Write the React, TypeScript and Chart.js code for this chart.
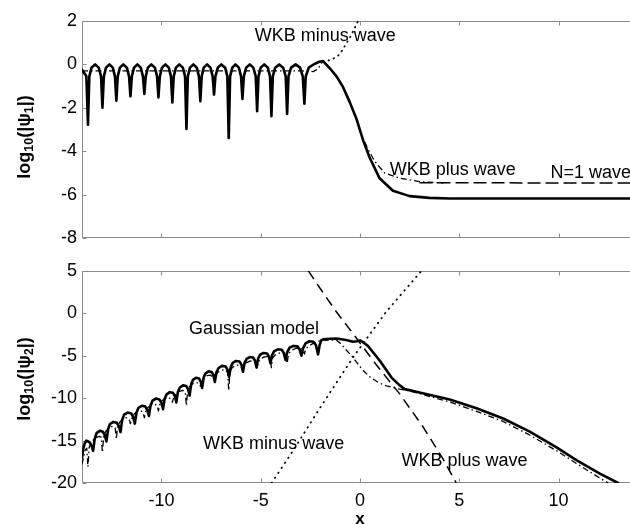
import React, { useEffect, useRef } from 'react';
import { Chart, registerables } from 'chart.js';

Chart.register(...registerables);

const FONT = '"Liberation Sans", Arial, Helvetica, sans-serif';

// ---------- axes ----------
const X_MIN = -14.0;
const X_MAX = 13.6;
const xTicks = [-10, -5, 0, 5, 10];
const topYTicks = [2, 0, -2, -4, -6, -8];
const bottomYTicks = [5, 0, -5, -10, -15, -20];

// ---------- top panel: log10(|psi1|) ----------
const psi1Numerical: [number, number][] = [
  [-14.0, -0.25], [-13.78, -0.55], [-13.7, -2.78], [-13.63, -0.55], [-13.52, -0.15], [-13.34, 0],
  [-13.16, -0.15], [-13.04, -0.55], [-12.97, -2.0], [-12.9, -0.55], [-12.79, -0.15], [-12.62, 0],
  [-12.45, -0.15], [-12.34, -0.55], [-12.27, -1.67], [-12.2, -0.55], [-12.09, -0.15], [-11.92, 0],
  [-11.74, -0.15], [-11.63, -0.55], [-11.56, -1.47], [-11.49, -0.55], [-11.38, -0.15], [-11.21, 0],
  [-11.04, -0.15], [-10.93, -0.55], [-10.86, -1.36], [-10.79, -0.55], [-10.68, -0.15], [-10.51, 0],
  [-10.33, -0.15], [-10.22, -0.55], [-10.15, -1.52], [-10.08, -0.55], [-9.97, -0.15], [-9.8, 0],
  [-9.63, -0.15], [-9.52, -0.55], [-9.45, -1.75], [-9.38, -0.55], [-9.27, -0.15], [-9.1, 0],
  [-8.92, -0.15], [-8.81, -0.55], [-8.74, -2.98], [-8.67, -0.55], [-8.56, -0.15], [-8.39, 0],
  [-8.22, -0.15], [-8.11, -0.55], [-8.04, -1.7], [-7.97, -0.55], [-7.87, -0.15], [-7.7, 0],
  [-7.53, -0.15], [-7.42, -0.55], [-7.35, -1.39], [-7.28, -0.55], [-7.16, -0.15], [-6.98, 0],
  [-6.79, -0.15], [-6.68, -0.55], [-6.61, -3.39], [-6.54, -0.55], [-6.43, -0.15], [-6.27, 0],
  [-6.1, -0.15], [-5.99, -0.55], [-5.92, -1.59], [-5.85, -0.55], [-5.73, -0.15], [-5.55, 0],
  [-5.37, -0.15], [-5.25, -0.55], [-5.18, -2.16], [-5.11, -0.55], [-5.0, -0.15], [-4.82, 0],
  [-4.64, -0.15], [-4.53, -0.55], [-4.46, -2.39], [-4.39, -0.55], [-4.27, -0.15], [-4.07, 0],
  [-3.87, -0.15], [-3.74, -0.55], [-3.67, -2.28], [-3.6, -0.55], [-3.47, -0.15], [-3.24, 0],
  [-3.02, -0.15], [-2.88, -0.55], [-2.8, -1.81], [-2.73, -0.55], [-2.58, -0.15], [-2.3, 0.02],
  [-2.05, 0.12], [-1.86, 0.15], [-1.5, -0.2], [-1.18, -0.55], [-0.85, -1.05], [-0.51, -1.75],
  [-0.18, -2.5], [0.16, -3.5], [0.49, -4.3], [0.99, -5.25], [1.66, -5.82], [2.5, -6.07],
  [3.5, -6.15], [4.5, -6.18], [13.6, -6.18],
];
const psi1Gaussian: [number, number][] = [
  [-14.0, -0.3], [-2.6, -0.3], [-2.35, -0.33], [-2.1, -0.2], [-1.95, 0.05], [-1.86, 0.13],
  [-1.5, -0.2], [-1.18, -0.58], [-0.85, -1.07], [-0.51, -1.77], [-0.18, -2.5], [0.07, -3.25],
  [0.4, -3.9], [0.75, -4.48], [1.25, -5.01], [2.0, -5.24], [3.0, -5.4], [4.2, -5.47],
];
const psi1WkbMinus: [number, number][] = [
  [-1.86, 0.15], [-1.52, 0.19], [-1.27, 0.3], [-1.02, 0.46], [-0.77, 0.84], [-0.51, 1.23],
  [-0.26, 1.69], [-0.1, 2.0],
];
const psi1N1: [number, number][] = [
  [3.0, -5.45], [13.6, -5.47],
];

// ---------- bottom panel: log10(|psi2|) ----------
const psi2Numerical: [number, number][] = [
  [-14.0, -17.0], [-13.93, -15.9], [-13.86, -15.3], [-13.78, -15.0], [-13.62, -15.2], [-13.52, -15.6], [-13.44, -16.2],
  [-13.36, -14.8], [-13.26, -14.1], [-13.1, -13.85], [-12.95, -13.95], [-12.85, -14.35], [-12.77, -15.1],
  [-12.69, -13.7], [-12.59, -13.05], [-12.42, -12.8], [-12.25, -12.9], [-12.14, -13.3], [-12.06, -14.0],
  [-11.98, -12.6], [-11.88, -11.95], [-11.7, -11.7], [-11.52, -11.8], [-11.42, -12.25], [-11.34, -13.0],
  [-11.26, -11.75], [-11.16, -11.15], [-10.99, -10.9], [-10.81, -11.0], [-10.71, -11.4], [-10.63, -12.1],
  [-10.55, -10.9], [-10.45, -10.3], [-10.28, -10.05], [-10.1, -10.15], [-10.0, -10.55], [-9.92, -11.3],
  [-9.84, -10.1], [-9.74, -9.55], [-9.58, -9.3], [-9.42, -9.38], [-9.32, -9.75], [-9.25, -10.5],
  [-9.17, -9.25], [-9.07, -8.75], [-8.91, -8.5], [-8.75, -8.58], [-8.65, -8.95], [-8.58, -9.7],
  [-8.5, -8.35], [-8.41, -7.85], [-8.26, -7.6], [-8.11, -7.68], [-8.02, -8.05], [-7.95, -8.8],
  [-7.87, -7.55], [-7.78, -7.1], [-7.63, -6.85], [-7.47, -6.92], [-7.38, -7.3], [-7.31, -8.1],
  [-7.23, -6.95], [-7.12, -6.45], [-6.95, -6.2], [-6.77, -6.27], [-6.67, -6.65], [-6.59, -7.5],
  [-6.51, -6.35], [-6.41, -5.85], [-6.24, -5.62], [-6.07, -5.68], [-5.97, -6.05], [-5.89, -6.9],
  [-5.81, -5.85], [-5.71, -5.37], [-5.55, -5.16], [-5.38, -5.22], [-5.29, -5.57], [-5.21, -6.4],
  [-5.13, -5.35], [-5.03, -4.89], [-4.86, -4.68], [-4.68, -4.74], [-4.59, -5.1], [-4.51, -5.9],
  [-4.43, -4.95], [-4.32, -4.47], [-4.13, -4.25], [-3.94, -4.31], [-3.84, -4.67], [-3.75, -5.5],
  [-3.66, -4.55], [-3.55, -4.07], [-3.35, -3.85], [-3.15, -3.9], [-3.04, -4.25], [-2.95, -5.0],
  [-2.86, -4.1], [-2.74, -3.55], [-2.55, -3.3], [-2.35, -3.35], [-2.22, -3.75], [-2.11, -4.85],
  [-2.03, -3.75], [-1.95, -3.2], [-1.86, -3.08], [-1.5, -3.0], [-1.18, -2.97], [-0.7, -3.15],
  [-0.35, -3.36], [-0.15, -3.3], [0.0, -3.2], [0.15, -3.4], [0.41, -3.87], [1.0, -5.6],
  [1.59, -7.58], [2.0, -8.5], [2.26, -8.94], [3.0, -9.34], [4.52, -10.15], [5.87, -11.2],
  [7.21, -12.4], [8.55, -13.95], [9.9, -15.8], [10.9, -17.3], [12.08, -18.9], [13.0, -20.0],
];
const psi2Gaussian: [number, number][] = [
  [-14.0, -17.8], [-13.85, -16.2], [-13.76, -15.9], [-13.7, -18.1], [-13.64, -15.8], [-13.52, -15.2],
  [-13.34, -14.7], [-13.15, -14.5], [-13.03, -14.6], [-12.97, -16.4], [-12.91, -14.5], [-12.8, -13.9],
  [-12.62, -13.5], [-12.45, -13.3], [-12.33, -13.5], [-12.27, -14.8], [-12.21, -13.4], [-12.09, -12.8],
  [-11.92, -12.4], [-11.74, -12.3], [-11.62, -12.55], [-11.56, -13.0], [-11.5, -12.45], [-11.38, -11.9],
  [-11.21, -11.55], [-11.04, -11.45], [-10.92, -11.75], [-10.86, -12.3], [-10.8, -11.6], [-10.68, -11.1],
  [-10.51, -10.8], [-10.33, -10.7], [-10.21, -10.95], [-10.15, -11.5], [-10.09, -10.8], [-9.97, -10.3],
  [-9.8, -10.0], [-9.63, -9.9], [-9.51, -10.15], [-9.45, -10.5], [-9.39, -10.0], [-9.27, -9.5],
  [-9.1, -9.2], [-8.92, -9.1], [-8.8, -9.3], [-8.74, -10.9], [-8.68, -9.1], [-8.56, -8.6],
  [-8.39, -8.25], [-8.22, -8.15], [-8.1, -8.35], [-8.04, -8.6], [-7.98, -8.1], [-7.87, -7.7],
  [-7.7, -7.35], [-7.53, -7.3], [-7.41, -7.55], [-7.35, -7.8], [-7.29, -7.4], [-7.16, -6.95],
  [-6.98, -6.7], [-6.79, -6.65], [-6.67, -6.95], [-6.61, -9.1], [-6.55, -6.8], [-6.43, -6.4],
  [-6.27, -6.15], [-6.1, -6.1], [-5.98, -6.35], [-5.92, -6.8], [-5.86, -6.2], [-5.73, -5.85],
  [-5.55, -5.65], [-5.37, -5.6], [-5.24, -5.85], [-5.18, -6.4], [-5.12, -5.75], [-5.0, -5.35],
  [-4.82, -5.15], [-4.64, -5.1], [-4.52, -5.35], [-4.46, -6.4], [-4.4, -5.3], [-4.27, -4.9],
  [-4.07, -4.7], [-3.87, -4.65], [-3.74, -4.9], [-3.67, -5.9], [-3.6, -4.8], [-3.47, -4.4],
  [-3.24, -4.15], [-3.02, -4.1], [-2.88, -4.3], [-2.8, -4.8], [-2.73, -4.2], [-2.55, -3.8],
  [-2.3, -3.5], [-2.05, -3.25], [-1.86, -3.15], [-1.2, -3.15], [-1.02, -3.48], [-0.7, -4.3],
  [-0.35, -5.2], [0.1, -6.6], [0.49, -7.5], [1.0, -8.25], [1.33, -8.55], [2.0, -8.95],
  [2.5, -9.15], [3.35, -9.7], [4.52, -10.45], [5.87, -11.55], [7.21, -12.75], [8.55, -14.35],
  [9.9, -16.2], [10.9, -17.7], [12.0, -19.3], [12.5, -20.0],
];
const psi2WkbMinus: [number, number][] = [
  [-4.45, -20], [-3.4, -16.3], [-2.0, -11.1], [-0.35, -5.2], [1.33, 0.2], [3.1, 5],
];
const psi2WkbPlus: [number, number][] = [
  [-2.6, 5], [-2.03, 3.0], [-1.2, 0.2], [-0.35, -2.4], [0.83, -6.1], [2.0, -9.5],
  [3.18, -13.4], [4.19, -17.2], [4.85, -20],
];

// ---------- text annotations (data coordinates) ----------
const topNotes = [
  { text: 'WKB minus wave', x: -5.3, y: 1.31 },
  { text: 'WKB plus wave', x: 1.5, y: -4.86 },
  { text: 'N=1 wave', x: 9.6, y: -5.01 },
];
const bottomNotes = [
  { text: 'Gaussian model', x: -8.61, y: -1.91 },
  { text: 'WKB minus wave', x: -7.9, y: -15.38 },
  { text: 'WKB plus wave', x: 2.09, y: -17.46 },
];

type Pts = [number, number][];

const solid = (pts: Pts) => ({
  data: pts.map(([x, y]) => ({ x, y })),
  borderColor: '#000', borderWidth: 2.6, borderDash: [] as number[],
  borderCapStyle: 'round', borderJoinStyle: 'round',
  pointRadius: 0, showLine: true, fill: false, tension: 0,
});
const styled = (pts: Pts, width: number, dash: number[], cap: string) => ({
  data: pts.map(([x, y]) => ({ x, y })),
  borderColor: '#000', borderWidth: width, borderDash: dash,
  borderCapStyle: cap, borderJoinStyle: 'round',
  pointRadius: 0, showLine: true, fill: false, tension: 0,
});

function framePlugin(yTicks: number[]) {
  return {
    id: 'frame',
    beforeDatasetsDraw(chart: any) {
      const { ctx, chartArea: a, scales } = chart;
      const L = Math.round(a.left) + 0.5;
      const T = Math.round(a.top) + 0.5;
      const B = Math.round(a.bottom) - 0.5;
      ctx.save();
      ctx.strokeStyle = '#8a8a8a';
      ctx.lineWidth = 1;
      ctx.beginPath();
      ctx.moveTo(a.right, T); ctx.lineTo(L, T); ctx.lineTo(L, B); ctx.lineTo(a.right, B);
      xTicks.forEach((v) => {
        const px = Math.round(scales.x.getPixelForValue(v)) + 0.5;
        ctx.moveTo(px, T); ctx.lineTo(px, T + 4);
        ctx.moveTo(px, B); ctx.lineTo(px, B - 4);
      });
      yTicks.forEach((v) => {
        const py = Math.round(scales.y.getPixelForValue(v)) + 0.5;
        ctx.moveTo(L, py); ctx.lineTo(L + 4, py);
      });
      ctx.stroke();
      ctx.restore();
    },
  };
}

function textPlugin(notes: { text: string; x: number; y: number }[], sub: string, titleCy: number, xTitle: boolean) {
  return {
    id: 'texts',
    afterDatasetsDraw(chart: any) {
      const { ctx, scales } = chart;
      ctx.save();
      ctx.fillStyle = '#000';
      ctx.textBaseline = 'middle';
      ctx.textAlign = 'left';
      ctx.font = `18px ${FONT}`;
      notes.forEach((n) => {
        ctx.fillText(n.text, scales.x.getPixelForValue(n.x), scales.y.getPixelForValue(n.y));
      });
      // y-axis title with subscripts
      const big = `bold 18px ${FONT}`;
      const small = `bold 12.5px ${FONT}`;
      const parts: [string, string, number][] = [
        ['log', big, 0], ['10', small, 5], ['(|\u03c8', big, 0], [sub, small, 5], ['|)', big, 0],
      ];
      let total = 0;
      parts.forEach(([t, f]) => { ctx.font = f; total += ctx.measureText(t).width; });
      ctx.translate(25, titleCy);
      ctx.rotate(-Math.PI / 2);
      let cx = -total / 2;
      parts.forEach(([t, f, dy]) => {
        ctx.font = f;
        ctx.fillText(t, cx, dy);
        cx += ctx.measureText(t).width;
      });
      ctx.restore();
      if (xTitle) {
        ctx.save();
        ctx.fillStyle = '#000';
        ctx.font = `bold 17px ${FONT}`;
        ctx.textAlign = 'center';
        ctx.textBaseline = 'alphabetic';
        ctx.fillText('x', scales.x.getPixelForValue(0), chart.height);
        ctx.restore();
      }
    },
  };
}

function makeOptions(yMin: number, yMax: number, yTicks: number[], padTop: number, xHeight: number, xLabels: boolean) {
  return {
    responsive: false,
    animation: false,
    events: [],
    layout: { padding: { top: padTop, left: 0, right: 0, bottom: 0 }, autoPadding: false },
    plugins: { legend: { display: false }, tooltip: { enabled: false } },
    scales: {
      x: {
        type: 'linear', min: X_MIN, max: X_MAX,
        afterBuildTicks: (s: any) => { s.ticks = xTicks.map((v) => ({ value: v })); },
        afterFit: (s: any) => { s.height = xHeight; },
        grid: { display: false, drawTicks: false },
        border: { display: false },
        ticks: {
          display: xLabels, color: '#000', padding: 7, maxRotation: 0, autoSkip: false,
          font: { size: 18, family: FONT }, callback: (v: any) => String(v),
        },
      },
      y: {
        type: 'linear', min: yMin, max: yMax,
        afterBuildTicks: (s: any) => { s.ticks = yTicks.map((v) => ({ value: v })); },
        afterFit: (s: any) => { s.width = 82; },
        grid: { display: false, drawTicks: false },
        border: { display: false },
        ticks: {
          color: '#000', padding: 5, autoSkip: false,
          font: { size: 18, family: FONT }, callback: (v: any) => String(v),
        },
      },
    },
  };
}

export default function App() {
  const topRef = useRef<HTMLCanvasElement>(null);
  const botRef = useRef<HTMLCanvasElement>(null);

  useEffect(() => {
    const top = new Chart(topRef.current as HTMLCanvasElement, {
      type: 'scatter',
      data: {
        datasets: [
          solid(psi1Numerical),
          styled(psi1Gaussian, 1.3, [6, 3, 1.5, 3], 'butt'),
          styled(psi1WkbMinus, 1.8, [0.5, 5], 'round'),
          styled(psi1N1, 1.5, [13, 5], 'butt'),
        ] as any,
      },
      options: makeOptions(-8, 2, topYTicks, 21, 17, false) as any,
      plugins: [framePlugin(topYTicks), textPlugin(topNotes, '1', 137, false)] as any,
    });
    const bot = new Chart(botRef.current as HTMLCanvasElement, {
      type: 'scatter',
      data: {
        datasets: [
          solid(psi2Numerical),
          styled(psi2Gaussian, 1.3, [6, 3, 1.5, 3], 'butt'),
          styled(psi2WkbMinus, 1.8, [0.5, 5.5], 'round'),
          styled(psi2WkbPlus, 1.5, [10, 6], 'butt'),
        ] as any,
      },
      options: makeOptions(-20, 5, bottomYTicks, 14, 41, true) as any,
      plugins: [framePlugin(bottomYTicks), textPlugin(bottomNotes, '2', 124, true)] as any,
    });
    return () => {
      top.destroy();
      bot.destroy();
    };
  }, []);

  return (
    <div style={{ position: 'fixed', left: 0, top: 0, width: 630, height: 524, background: '#fff' }}>
      <canvas ref={topRef} width={630} height={255} style={{ position: 'absolute', left: 0, top: 0 }} />
      <canvas ref={botRef} width={630} height={269} style={{ position: 'absolute', left: 0, top: 255 }} />
    </div>
  );
}
